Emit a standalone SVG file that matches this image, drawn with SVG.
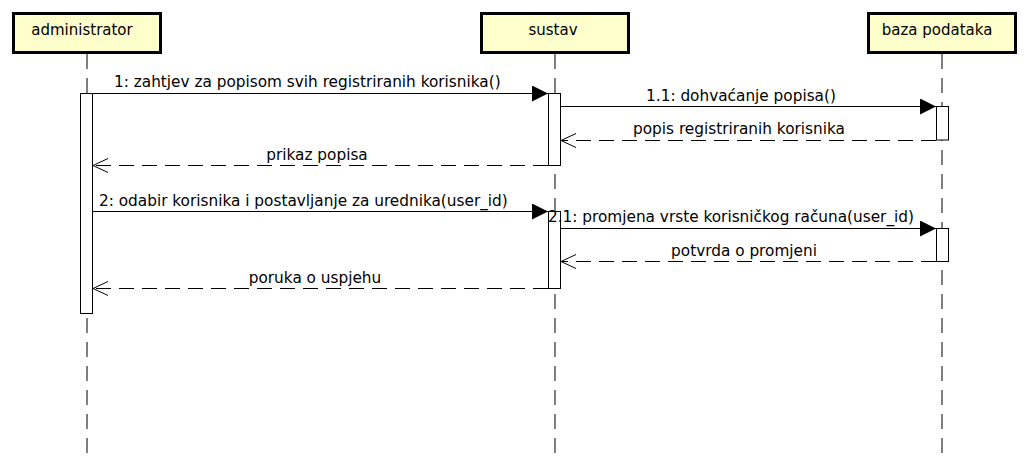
<svg xmlns="http://www.w3.org/2000/svg" width="1030" height="466" viewBox="0 0 1030 466">
<style>
text{font-family:"DejaVu Sans","Liberation Sans",sans-serif;font-size:15.3px;fill:#000}
.box{fill:#ffffcc;stroke:#000;stroke-width:3}
.lbl{font-size:15px}
.life{stroke:#000;stroke-width:1;stroke-dasharray:15 9;fill:none}
.act{fill:#fff;stroke:#000;stroke-width:1}
.msg{stroke:#000;stroke-width:1;fill:none}
.ret{stroke:#000;stroke-width:1;fill:none;stroke-dasharray:15 8}
.mid{text-anchor:middle}
</style>
<defs>
<marker id="filled" markerWidth="16" markerHeight="16" refX="16" refY="8" orient="auto" markerUnits="userSpaceOnUse">
<path d="M0,0 L16,8 L0,16 Z" fill="#000"/>
</marker>
<marker id="open" markerWidth="16" markerHeight="16" refX="15" refY="8" orient="auto" markerUnits="userSpaceOnUse">
<path d="M0,1 L15,8 L0,15" fill="none" stroke="#000" stroke-width="1"/>
</marker>
</defs>
<g id="lifelines">
<line class="life" x1="87" y1="54" x2="87" y2="456"/>
<line class="life" x1="555" y1="54" x2="555" y2="456"/>
<line class="life" x1="942" y1="54" x2="942" y2="456"/>
</g>
<g id="administrator">
<rect class="box" x="13.5" y="13.5" width="147" height="39"/>
<text class="mid lbl" x="82" y="35">administrator</text>
<rect class="act" x="80.5" y="93.5" width="12" height="220"/>
</g>
<g id="sustav">
<rect class="box" x="481.5" y="13.5" width="147" height="39"/>
<text class="mid lbl" x="553" y="35">sustav</text>
<rect class="act" x="548.5" y="93.5" width="12" height="72"/>
<rect class="act" x="548.5" y="211.5" width="12" height="77"/>
</g>
<g id="baza_podataka">
<rect class="box" x="868.5" y="13.5" width="147" height="39"/>
<text class="mid lbl" x="937" y="35">baza podataka</text>
<rect class="act" x="936.5" y="106.5" width="12" height="33.5"/>
<rect class="act" x="936.5" y="228.5" width="12" height="33"/>
</g>
<g id="connectors">
<line class="msg" x1="93" y1="93.5" x2="548" y2="93.5" marker-end="url(#filled)"/>
<text x="114" y="87">1: zahtjev za popisom svih registriranih korisnika()</text>
<line class="msg" x1="561" y1="106.5" x2="936" y2="106.5" marker-end="url(#filled)"/>
<text class="mid" x="741" y="101">1.1: dohvaćanje popisa()</text>
<line class="ret" x1="936" y1="140.5" x2="561" y2="140.5" marker-end="url(#open)"/>
<text class="mid" x="739" y="134">popis registriranih korisnika</text>
<line class="ret" x1="548" y1="165.5" x2="93" y2="165.5" marker-end="url(#open)"/>
<text class="mid" x="317" y="160">prikaz popisa</text>
<line class="msg" x1="93" y1="211.5" x2="548" y2="211.5" marker-end="url(#filled)"/>
<text x="99" y="206">2: odabir korisnika i postavljanje za urednika(user_id)</text>
<line class="msg" x1="561" y1="228.5" x2="936" y2="228.5" marker-end="url(#filled)"/>
<text x="548" y="222">2.1: promjena vrste korisničkog računa(user_id)</text>
<line class="ret" x1="936" y1="261.5" x2="561" y2="261.5" marker-end="url(#open)"/>
<text class="mid" x="744" y="256">potvrda o promjeni</text>
<line class="ret" x1="548" y1="288.5" x2="93" y2="288.5" marker-end="url(#open)"/>
<text class="mid" x="315" y="283">poruka o uspjehu</text>
</g>
</svg>
